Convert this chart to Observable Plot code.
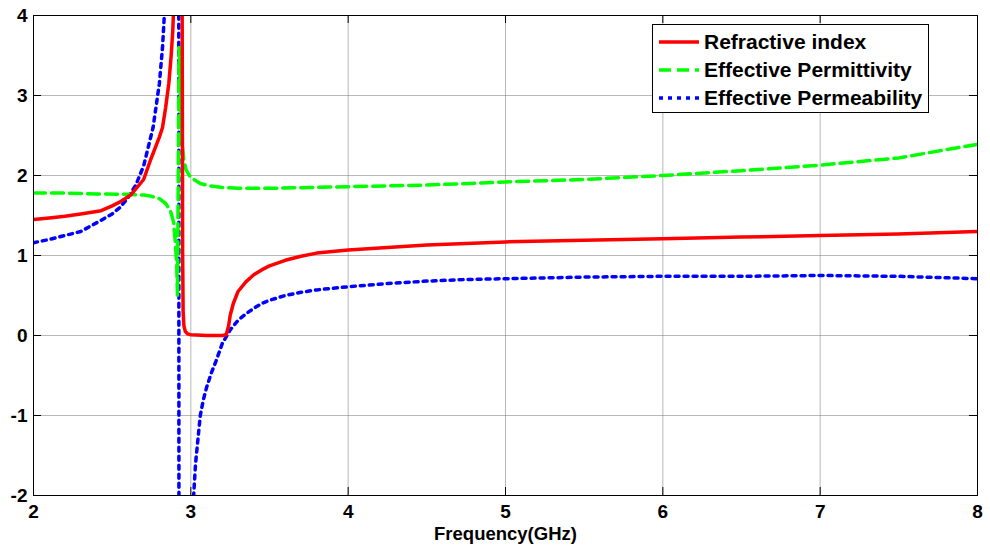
<!DOCTYPE html>
<html>
<head>
<meta charset="utf-8">
<script src="https://cdn.jsdelivr.net/npm/d3@7"></script>
<script src="https://cdn.jsdelivr.net/npm/@observablehq/plot@0.6"></script>
<style>
  html, body { margin: 0; padding: 0; background: white; }
  #wrap { position: relative; width: 990px; height: 550px; font-family: "Liberation Sans", Arial, sans-serif; font-weight: bold; }
  #legend { position: absolute; left: 652px; top: 24px; width: 275px; height: 87px; border: 1px solid black; background: white; }
  .row { position: absolute; left: 0; height: 28px; display: flex; align-items: center; font-size: 21px; color: black; white-space: nowrap; }
  .row svg { margin-left: 6px; margin-right: 5px; }
</style>
</head>
<body>
<div id="wrap"></div>
<script>
// ---- data ----
const xTicks = [2, 3, 4, 5, 6, 7, 8];
const yTicks = [-2, -1, 0, 1, 2, 3, 4];
const seriesNames = ["Refractive index", "Effective Permittivity", "Effective Permeability"];
const xLabel = "Frequency(GHz)";

const refFreq = [2.0, 2.1, 2.2, 2.3, 2.43, 2.5, 2.55, 2.62, 2.7, 2.745, 2.8, 2.82, 2.84, 2.86, 2.875, 2.885, 2.895, 2.91,
  2.94, 2.945, 2.948, 2.951, 2.956, 2.965, 2.98, 3.0, 3.1, 3.2, 3.225, 3.24, 3.25, 3.27, 3.3, 3.35, 3.4, 3.45, 3.5, 3.6, 3.7, 3.8, 3.9, 4.0,
  4.25, 4.5, 4.75, 5.0, 5.5, 6.0, 6.5, 7.0, 7.5, 8.0];
const refIndex = [1.45, 1.47, 1.49, 1.52, 1.56, 1.62, 1.67, 1.76, 1.95, 2.2, 2.48, 2.6, 2.85, 3.15, 3.5, 3.8, 4.3, 6,
  6, 4, 1.0, 0.3, 0.12, 0.05, 0.02, 0.01, 0.0, 0.0, 0.01, 0.12, 0.25, 0.4, 0.55, 0.67, 0.76, 0.82, 0.87, 0.94, 0.99, 1.03, 1.05, 1.07,
  1.1, 1.13, 1.15, 1.17, 1.19, 1.21, 1.23, 1.25, 1.27, 1.3];

const epsFreq = [2.0, 2.2, 2.4, 2.6, 2.7, 2.75, 2.8, 2.84, 2.87, 2.89, 2.9, 2.91, 2.915, 2.92, 2.925, 2.935, 2.945, 2.955, 2.97, 2.99,
  3.02, 3.06, 3.12, 3.2, 3.3, 3.5, 3.75, 4.0, 4.5, 5.0, 5.5, 6.0, 6.5, 7.0, 7.5, 8.0];
const epsValues = [1.78, 1.78, 1.77, 1.765, 1.755, 1.74, 1.71, 1.65, 1.56, 1.42, 1.2, 0.9, 0.5, 2.0, 3.6, 3.0, 2.4, 2.2, 2.07, 2.0,
  1.95, 1.9, 1.87, 1.85, 1.84, 1.84, 1.85, 1.86, 1.88, 1.92, 1.95, 2.0, 2.06, 2.13, 2.22, 2.39];

const muFreq = [2.0, 2.1, 2.2, 2.3, 2.43, 2.5, 2.55, 2.6, 2.65, 2.7, 2.76, 2.8, 2.82, 2.83, 2.85, 2.9, 2.922,
  2.926, 2.98, 3.0, 3.015, 3.03, 3.045, 3.06, 3.08, 3.1, 3.13, 3.16, 3.2, 3.25, 3.3, 3.35, 3.4, 3.45, 3.5, 3.6, 3.7, 3.8, 4.0,
  4.25, 4.5, 4.75, 5.0, 5.5, 6.0, 6.5, 7.0, 7.5, 8.0];
const muValues = [1.16, 1.2, 1.25, 1.3, 1.44, 1.52, 1.6, 1.72, 1.88, 2.12, 2.6, 3.15, 3.6, 3.95, 5, 9, 12,
  -12, -4, -2.8, -2.1, -1.6, -1.3, -1.0, -0.8, -0.65, -0.47, -0.32, -0.1, 0.07, 0.19, 0.27, 0.34, 0.4, 0.44, 0.5, 0.54, 0.57, 0.61,
  0.65, 0.68, 0.7, 0.71, 0.73, 0.74, 0.74, 0.75, 0.74, 0.71];

// ---- build tables ----
const refData = refFreq.map((f, i) => ({f, v: refIndex[i]}));
const epsData = epsFreq.map((f, i) => ({f, v: epsValues[i]}));
const muData = muFreq.map((f, i) => ({f, v: muValues[i]}));

const W = 990, H = 550;
const mL = 33, mR = 13, mT = 15, mB = 55;
const innerW = W - mL - mR, innerH = H - mT - mB;
const tick = 8;
const font = "'Liberation Sans', Arial, sans-serif";

const chart = Plot.plot({
  width: W, height: H,
  marginLeft: mL, marginRight: mR, marginTop: mT, marginBottom: mB,
  style: {fontFamily: font, fontWeight: "bold", fontSize: "19px", background: "white", color: "black"},
  x: {domain: [2, 8], ticks: xTicks},
  y: {domain: [-2, 4], ticks: yTicks},
  marks: [
    Plot.gridX(xTicks, {stroke: "#808080", strokeOpacity: 0.7, strokeWidth: 0.8}),
    Plot.gridY(yTicks, {stroke: "#808080", strokeOpacity: 0.7, strokeWidth: 0.8}),
    // inward ticks
    Plot.ruleX(xTicks, {x: d => d, insetTop: innerH - tick, stroke: "black"}),
    Plot.ruleX(xTicks, {x: d => d, insetBottom: innerH - tick, stroke: "black"}),
    Plot.ruleY(yTicks, {y: d => d, insetRight: innerW - tick, stroke: "black"}),
    Plot.ruleY(yTicks, {y: d => d, insetLeft: innerW - tick, stroke: "black"}),
    Plot.lineY(muData, {x: "f", y: "v", stroke: "#0000ff", strokeWidth: 3.5, strokeDasharray: "4,5", clip: true}),
    Plot.lineY(epsData, {x: "f", y: "v", stroke: "#00ff00", strokeWidth: 3.5, strokeDasharray: "12,6", clip: true}),
    Plot.lineY(refData, {x: "f", y: "v", stroke: "#ff0000", strokeWidth: 3.5, clip: true}),
    Plot.frame({stroke: "black", strokeWidth: 1}),
    Plot.axisX(xTicks, {tickSize: 0, tickPadding: 9, tickFormat: d => String(d), label: null}),
    Plot.axisY(yTicks, {tickSize: 0, tickPadding: 6, tickFormat: d => String(d), label: null}),
    Plot.text([xLabel], {text: d => d, frameAnchor: "bottom", lineAnchor: "top", dy: 31, fontSize: 18.5, fontWeight: "bold"})
  ]
});

const wrap = document.getElementById("wrap");
wrap.appendChild(chart);

// legend
const legend = document.createElement("div");
legend.id = "legend";
const styles = [
  {color: "#ff0000", dash: null},
  {color: "#00ff00", dash: "12,6"},
  {color: "#0000ff", dash: "4,5"}
];
seriesNames.forEach((name, i) => {
  const row = document.createElement("div");
  row.className = "row";
  row.style.top = (3 + i * 28) + "px";
  const ns = "http://www.w3.org/2000/svg";
  const s = document.createElementNS(ns, "svg");
  s.setAttribute("width", 40); s.setAttribute("height", 10);
  const ln = document.createElementNS(ns, "line");
  ln.setAttribute("x1", 0); ln.setAttribute("x2", 40); ln.setAttribute("y1", 5); ln.setAttribute("y2", 5);
  ln.setAttribute("stroke", styles[i].color); ln.setAttribute("stroke-width", 3.5);
  if (styles[i].dash) ln.setAttribute("stroke-dasharray", styles[i].dash);
  s.appendChild(ln);
  row.appendChild(s);
  const t = document.createElement("span");
  t.textContent = name;
  row.appendChild(t);
  legend.appendChild(row);
});
wrap.appendChild(legend);
</script>
</body>
</html>
